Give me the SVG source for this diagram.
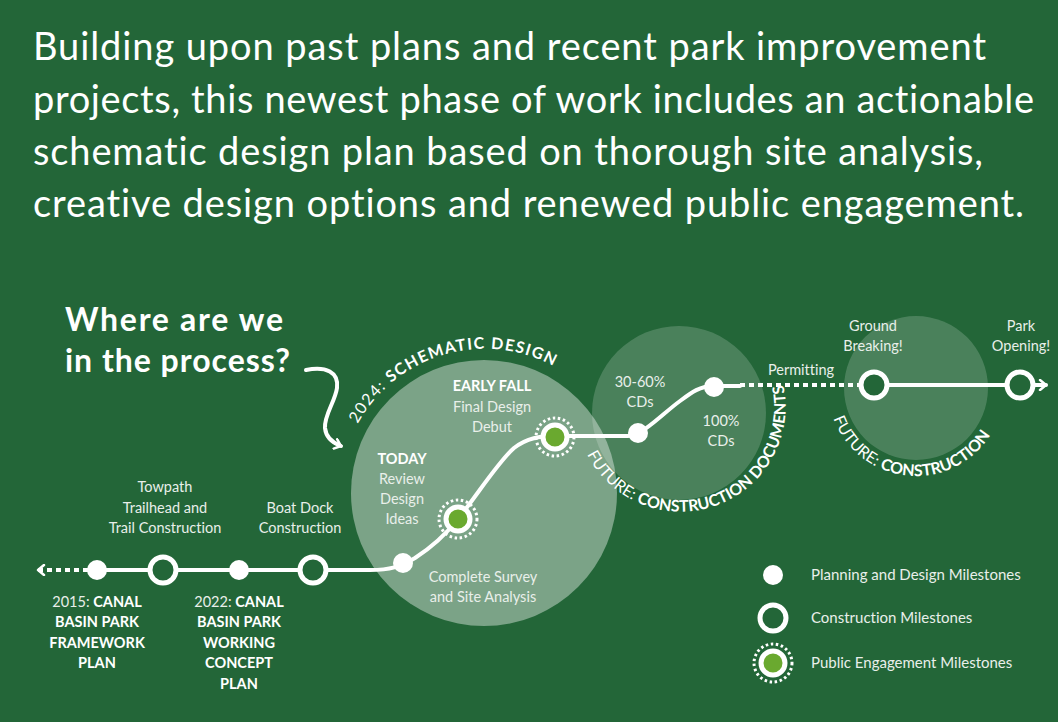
<svg xmlns="http://www.w3.org/2000/svg" width="1058" height="722" viewBox="0 0 1058 722">
<defs>
<style>
text{font-variant-ligatures:none}
.bg{fill:#236638}
.title{font-family:Lato,"Liberation Sans",sans-serif;font-size:38px;fill:#ffffff}
.q{font-family:Lato,"Liberation Sans",sans-serif;font-size:32px;font-weight:700;fill:#ffffff}
.lbl{font-family:Lato,"Liberation Sans",sans-serif;font-size:14.5px;fill:#e9efea;text-anchor:middle}
.b{font-weight:700;fill:#ffffff}
.arc{font-family:Lato,"Liberation Sans",sans-serif;font-size:16px;fill:#ffffff}
.leg{font-family:Lato,"Liberation Sans",sans-serif;font-size:15px;fill:#e9efea}
.line{fill:none;stroke:#ffffff;stroke-width:4;stroke-linecap:round}
.dash{fill:none;stroke:#ffffff;stroke-width:4;stroke-dasharray:5 4}
.dot{fill:#ffffff}
.ring{fill:#236638;stroke:#ffffff;stroke-width:5}
.eng{fill:#6aa92f;stroke:#ffffff;stroke-width:5}
.engd{fill:none;stroke:#ffffff;stroke-width:3;stroke-dasharray:2.5 2.6}
</style>
<marker id="chev" viewBox="0 0 10 12" refX="8" refY="6" markerWidth="10" markerHeight="12" markerUnits="userSpaceOnUse" orient="auto-start-reverse">
<path d="M2 1 L8 6 L2 11" fill="none" stroke="#ffffff" stroke-width="2.5" stroke-linecap="round" stroke-linejoin="round"/>
</marker>
<path id="arcA" d="M353.5 432.1 A145 145 0 0 1 586.5 390.5"/>
<path id="arcB" d="M582.6 444.3 A105 105 0 0 0 778.7 369.1"/>
<path id="arcC" d="M831.0 410.8 A88 88 0 0 0 995.8 425.2"/>
</defs>
<rect class="bg" x="0" y="0" width="1058" height="722"/>

<g id="title">
<text class="title" x="33" y="60" textLength="953">Building upon past plans and recent park improvement</text>
<text class="title" x="33" y="113" textLength="1001">projects, this newest phase of work includes an actionable</text>
<text class="title" x="33" y="165" textLength="950">schematic design plan based on thorough site analysis,</text>
<text class="title" x="33" y="217" textLength="991">creative design options and renewed public engagement.</text>
</g>

<g id="phases">
<circle id="phase-schematic" cx="484" cy="493" r="133" fill="#ffffff" fill-opacity="0.4"/>
<circle id="phase-cd" cx="679" cy="413" r="87" fill="#ffffff" fill-opacity="0.18"/>
<circle id="phase-construction" cx="916" cy="388" r="72" fill="#ffffff" fill-opacity="0.18"/>
<text class="arc" font-size="17" letter-spacing="1.3"><textPath href="#arcA" startOffset="9">2024: <tspan font-weight="700">SCHEMATIC DESIGN</tspan></textPath></text>
<text class="arc" font-size="14.8"><textPath href="#arcB" startOffset="11">FUTURE: <tspan font-weight="700">CONSTRUCTION DOCUMENTS</tspan></textPath></text>
<text class="arc" font-size="15"><textPath href="#arcC" startOffset="8">FUTURE: <tspan font-weight="700">CONSTRUCTION</tspan></textPath></text>
</g>

<g id="question">
<text class="q" x="65" y="331" textLength="218">Where are we</text>
<text class="q" x="65" y="372" textLength="225">in the process?</text>
<path class="line" d="M306 370 C326 366 339 372 337 388 C335 402 324 415 325 428 C326 438 333 443 341 446" stroke-width="2.5" marker-end="url(#chev)"/>
</g>

<g id="connectors">
<path class="dash" d="M88 570 H38" marker-end="url(#chev)"/>
<path class="line" d="M97 570 H370 C390 570 400 567 415 558 C432 547 447 533 458 519 C478 494 498 462 514 448 C527 438 540 436 555 436 H628 C645 434 662 414 680 401 C692 392 700 386 714 386 H740"/>
<path class="dash" d="M740 385 H860"/>
<path class="line" d="M874 385 H1046" marker-end="url(#chev)"/>
</g>

<g id="n2015"><circle class="dot" cx="97" cy="570" r="10"/>
<text class="lbl"><tspan x="97" y="607">2015: <tspan class="b">CANAL</tspan></tspan><tspan class="b" x="97" y="627">BASIN PARK</tspan><tspan class="b" x="97" y="648">FRAMEWORK</tspan><tspan class="b" x="97" y="668">PLAN</tspan></text></g>
<g id="n-towpath"><circle class="ring" cx="163" cy="570" r="13"/>
<text class="lbl"><tspan x="165" y="492">Towpath</tspan><tspan x="165" y="513">Trailhead and</tspan><tspan x="165" y="533">Trail Construction</tspan></text></g>
<g id="n2022"><circle class="dot" cx="239" cy="570" r="10"/>
<text class="lbl"><tspan x="239" y="607">2022: <tspan class="b">CANAL</tspan></tspan><tspan class="b" x="239" y="627">BASIN PARK</tspan><tspan class="b" x="239" y="648">WORKING</tspan><tspan class="b" x="239" y="668">CONCEPT</tspan><tspan class="b" x="239" y="689">PLAN</tspan></text></g>
<g id="n-boatdock"><circle class="ring" cx="313" cy="570" r="13"/>
<text class="lbl"><tspan x="300" y="513">Boat Dock</tspan><tspan x="300" y="533">Construction</tspan></text></g>
<g id="n-survey"><circle class="dot" cx="403" cy="563" r="10"/>
<text class="lbl"><tspan x="483" y="582">Complete Survey</tspan><tspan x="483" y="602">and Site Analysis</tspan></text></g>
<g id="n-today"><circle class="engd" cx="458" cy="519" r="19"/><circle class="eng" cx="458" cy="519" r="12"/>
<text class="lbl"><tspan class="b" x="402" y="464">TODAY</tspan><tspan x="402" y="484">Review</tspan><tspan x="402" y="504">Design</tspan><tspan x="402" y="524">Ideas</tspan></text></g>
<g id="n-earlyfall"><circle class="engd" cx="555" cy="437" r="19"/><circle class="eng" cx="555" cy="437" r="12"/>
<text class="lbl"><tspan class="b" x="492" y="391">EARLY FALL</tspan><tspan x="492" y="412">Final Design</tspan><tspan x="492" y="432">Debut</tspan></text></g>
<g id="n-cd60"><circle class="dot" cx="638" cy="433" r="10"/>
<text class="lbl"><tspan x="640" y="387">30-60%</tspan><tspan x="640" y="407">CDs</tspan></text></g>
<g id="n-cd100"><circle class="dot" cx="714" cy="387" r="10"/>
<text class="lbl"><tspan x="721" y="426">100%</tspan><tspan x="721" y="446">CDs</tspan></text></g>
<g id="permitting"><text class="lbl" x="801" y="375">Permitting</text></g>
<g id="n-ground"><circle class="ring" cx="874" cy="385" r="13"/>
<text class="lbl"><tspan x="873" y="331">Ground</tspan><tspan x="873" y="351">Breaking!</tspan></text></g>
<g id="n-opening"><circle class="ring" cx="1020" cy="385" r="13"/>
<text class="lbl"><tspan x="1021" y="331">Park</tspan><tspan x="1021" y="351">Opening!</tspan></text></g>

<g id="legend">
<circle class="dot" cx="773" cy="575" r="10"/>
<text class="leg" x="811" y="580">Planning and Design Milestones</text>
<circle class="ring" cx="773" cy="618" r="13"/>
<text class="leg" x="811" y="623">Construction Milestones</text>
<circle class="engd" cx="773" cy="663" r="19"/><circle class="eng" cx="773" cy="663" r="12"/>
<text class="leg" x="811" y="668">Public Engagement Milestones</text>
</g>
</svg>
